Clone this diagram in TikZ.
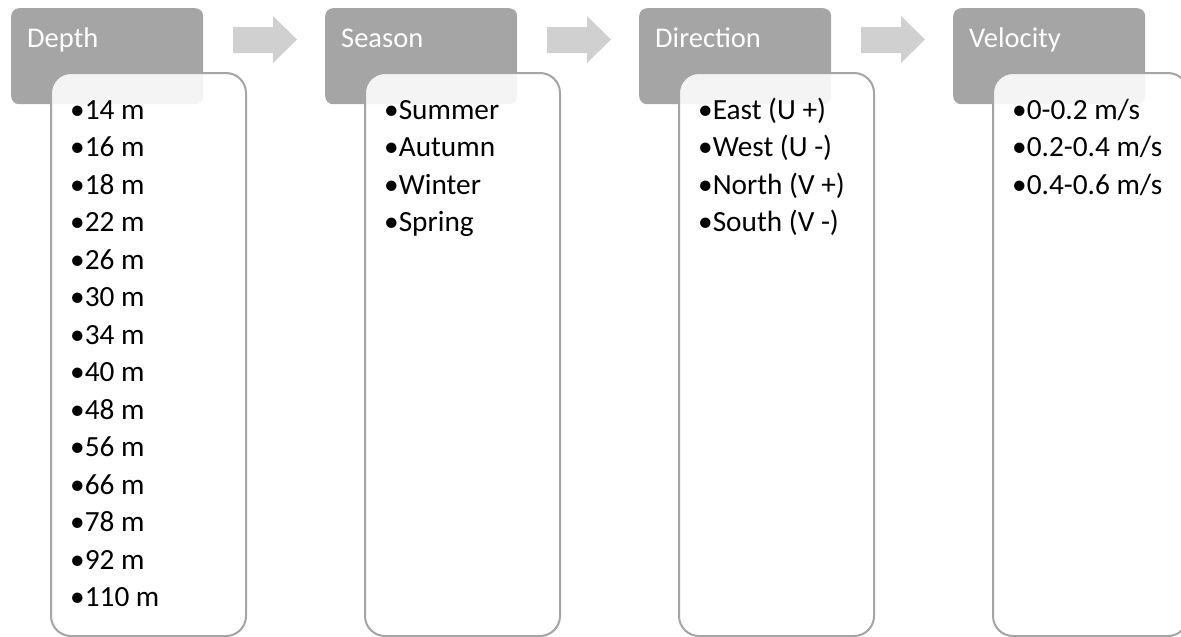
\documentclass[tikz,border=0pt]{standalone}
\usepackage{fontspec}
\setmainfont{Carlito}
\definecolor{headgray}{HTML}{A5A5A5}
\definecolor{arrowgray}{HTML}{D0D0D0}
\definecolor{boxline}{HTML}{A5A5A5}
\begin{document}
\begin{tikzpicture}[x=1pt,y=-1pt,
  headbox/.style={fill=headgray, draw=none, rounded corners=8pt, minimum width=192pt, minimum height=96pt, anchor=north west, inner sep=0pt},
  headtext/.style={text=white, font=\fontsize{28.5}{34}\selectfont, anchor=base west, inner sep=0pt},
  listbox/.style={draw=boxline, line width=2pt, fill=white, fill opacity=0.88, rounded corners=20pt, minimum width=195pt, minimum height=563pt, anchor=north west, inner sep=0pt},
  item/.style={text=black, font=\fontsize{29.3}{34}\selectfont, anchor=base west, inner sep=0pt},
  flowarrow/.style={fill=arrowgray, draw=none}
]
\useasboundingbox (0,0) rectangle (1181,637);
% headers
\node[headbox] (h1) at (11,8) {};
\node[headbox] (h2) at (325,8) {};
\node[headbox] (h3) at (639,8) {};
\node[headbox] (h4) at (953,8) {};
% arrows
\foreach \dx in {0,314,628}{
  \fill[flowarrow] (233+\dx,27) -- (273+\dx,27) -- (273+\dx,16) -- (297+\dx,39.5) -- (273+\dx,63) -- (273+\dx,53) -- (233+\dx,53) -- cycle;
}
% header texts
\node[headtext] (t1) at (27,47) {Depth};
\node[headtext] (t2) at (341,47) {Season};
\node[headtext] (t3) at (655,47) {Direction};
\node[headtext] (t4) at (969,47) {Velocity};
% list boxes
\node[listbox] (c1) at (50,72) {};
\node[listbox] (c2) at (364,72) {};
\node[listbox] (c3) at (678,72) {};
\node[listbox] (c4) at (992,72) {};
% items
\foreach \t [count=\i] in {14 m,16 m,18 m,22 m,26 m,30 m,34 m,40 m,48 m,56 m,66 m,78 m,92 m,110 m}{
  \node[item] (d\i) at (70,{119+37.5*(\i-1)}) {•\t};
}
\foreach \t [count=\i] in {Summer,Autumn,Winter,Spring}{
  \node[item] (s\i) at (384,{119+37.5*(\i-1)}) {•\t};
}
\foreach \t [count=\i] in {East (U +),West (U -),North (V +),South (V -)}{
  \node[item] (r\i) at (698,{119+37.5*(\i-1)}) {•\t};
}
\foreach \t [count=\i] in {0-0.2 m/s,0.2-0.4 m/s,0.4-0.6 m/s}{
  \node[item] (v\i) at (1012,{119+37.5*(\i-1)}) {•\t};
}
\end{tikzpicture}
\end{document}
